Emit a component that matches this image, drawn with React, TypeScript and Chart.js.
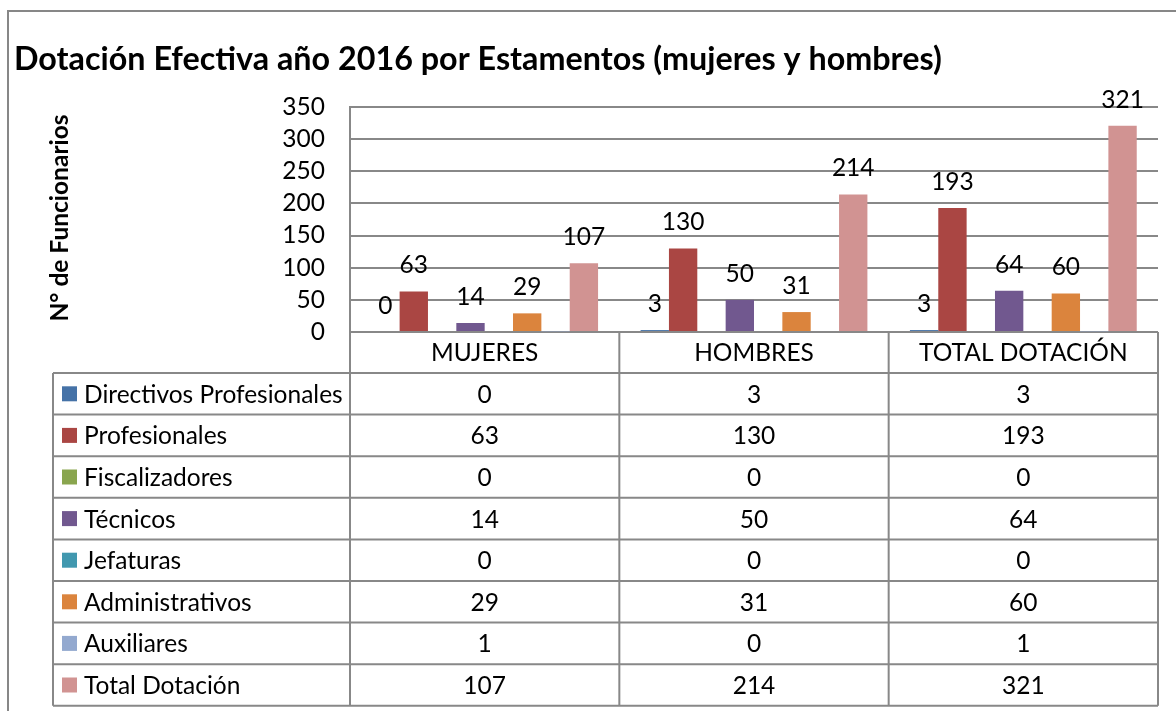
import React, { useEffect, useRef } from 'react';
import { Chart, registerables } from 'chart.js';

Chart.register(...registerables);

const chartTitle = 'Dotación Efectiva año 2016 por Estamentos (mujeres y hombres)';
const yAxisTitle = 'N° de Funcionarios';
const categories = ['MUJERES', 'HOMBRES', 'TOTAL DOTACIÓN'];
const seriesNames = [
  'Directivos Profesionales',
  'Profesionales',
  'Fiscalizadores',
  'Técnicos',
  'Jefaturas',
  'Administrativos',
  'Auxiliares',
  'Total Dotación',
];
const directivos = [0, 3, 3];
const profesionales = [63, 130, 193];
const fiscalizadores = [0, 0, 0];
const tecnicos = [14, 50, 64];
const jefaturas = [0, 0, 0];
const administrativos = [29, 31, 60];
const auxiliares = [1, 0, 1];
const totalDotacion = [107, 214, 321];
const seriesValues = [directivos, profesionales, fiscalizadores, tecnicos, jefaturas, administrativos, auxiliares, totalDotacion];
const labeledSeries = [true, true, false, true, false, true, false, true];
const seriesColors = ['#4572A7', '#AA4643', '#89A54E', '#71588F', '#4198AF', '#DB843D', '#93A9CF', '#D19392'];
const yMin = 0;
const yMax = 350;
const yStep = 50;

const FONT = 'Lato';
const TEXT_SIZE = 24.5;
const LINE = '#888888';

const extrasPlugin = {
  id: 'excelExtras',
  afterDatasetsDraw(chart: any) {
    const ctx = chart.ctx;
    ctx.save();
    ctx.fillStyle = '#000';
    ctx.font = `${TEXT_SIZE}px ${FONT}`;
    ctx.textAlign = 'center';
    ctx.textBaseline = 'middle';
    chart.data.datasets.forEach((ds: any, di: number) => {
      if (!labeledSeries[di]) return;
      const meta = chart.getDatasetMeta(di);
      meta.data.forEach((bar: any, i: number) => {
        ctx.fillText(String(ds.data[i]), bar.x, bar.y - 26);
      });
    });
    ctx.restore();
  },
  afterDraw(chart: any) {
    const ctx = chart.ctx;
    const area = chart.chartArea;
    const xs = chart.scales.x;
    const n = categories.length;
    const colW = (area.right - area.left) / n;
    const headerTop = area.bottom;
    const headerBottom = 373;
    const rowH = 41.6;
    const rows = seriesNames.length;
    const tableBottom = headerBottom + rowH * rows;
    const legendLeft = 53;
    ctx.save();

    // outer frame
    ctx.strokeStyle = '#878787';
    ctx.lineWidth = 2;
    ctx.beginPath();
    ctx.moveTo(8, 711);
    ctx.lineTo(8, 11);
    ctx.lineTo(1176, 11);
    ctx.stroke();

    // title
    ctx.fillStyle = '#000';
    ctx.font = `bold 32.3px ${FONT}`;
    ctx.textAlign = 'left';
    ctx.textBaseline = 'alphabetic';
    ctx.fillText(chartTitle, 14, 70);

    // y axis title
    ctx.save();
    ctx.translate(60, 218);
    ctx.rotate(-Math.PI / 2);
    ctx.font = `bold 24.5px ${FONT}`;
    ctx.textAlign = 'center';
    ctx.textBaseline = 'middle';
    ctx.fillText(yAxisTitle, 0, 0);
    ctx.restore();

    // table lines
    ctx.strokeStyle = LINE;
    ctx.lineWidth = 2;
    ctx.beginPath();
    for (let r = 0; r <= rows; r++) {
      const y = headerBottom + rowH * r;
      ctx.moveTo(legendLeft, y);
      ctx.lineTo(area.right, y);
    }
    ctx.moveTo(legendLeft, headerBottom);
    ctx.lineTo(legendLeft, tableBottom);
    ctx.moveTo(area.left, headerTop);
    ctx.lineTo(area.left, tableBottom);
    for (let i = 0; i < n; i++) {
      const xr = xs.getPixelForValue(i) + colW / 2;
      ctx.moveTo(xr, headerTop);
      ctx.lineTo(xr, tableBottom);
    }
    ctx.stroke();

    // header texts
    ctx.font = `${TEXT_SIZE}px ${FONT}`;
    ctx.textAlign = 'center';
    ctx.textBaseline = 'middle';
    ctx.fillStyle = '#000';
    categories.forEach((c, i) => {
      ctx.fillText(c, xs.getPixelForValue(i), (headerTop + headerBottom) / 2 + 1);
    });

    // rows
    seriesNames.forEach((name, r) => {
      const cy = headerBottom + rowH * r + rowH / 2;
      ctx.fillStyle = seriesColors[r];
      ctx.fillRect(62, cy - 7.5, 15, 15);
      ctx.fillStyle = '#000';
      ctx.textAlign = 'left';
      ctx.fillText(name, 84, cy + 1);
      ctx.textAlign = 'center';
      seriesValues[r].forEach((v, i) => {
        ctx.fillText(String(v), xs.getPixelForValue(i), cy + 1);
      });
    });
    ctx.restore();
  },
};

export default function App() {
  const ref = useRef<HTMLCanvasElement | null>(null);
  useEffect(() => {
    if (!ref.current) return;
    const chart = new Chart(ref.current, {
      type: 'bar',
      data: {
        labels: categories,
        datasets: seriesNames.map((name, i) => ({
          label: name,
          data: seriesValues[i],
          backgroundColor: seriesColors[i],
          borderWidth: 0,
          categoryPercentage: 8 / 9.5,
          barPercentage: 1,
        })),
      },
      options: {
        animation: false,
        responsive: true,
        maintainAspectRatio: false,
        layout: { padding: { left: 0, top: 107, right: 18, bottom: 379 } },
        plugins: {
          legend: { display: false },
          title: { display: false },
          tooltip: { enabled: false },
        },
        scales: {
          x: { display: false },
          y: {
            min: yMin,
            max: yMax,
            ticks: {
              stepSize: yStep,
              autoSkip: false,
              color: '#000',
              padding: 25,
              font: { family: FONT, size: TEXT_SIZE },
            },
            grid: { color: LINE, lineWidth: 2, drawTicks: false },
            border: { display: true, color: LINE, width: 2 },
            afterFit: (scale: any) => {
              scale.width = 350;
            },
          },
        },
      },
      plugins: [extrasPlugin],
    });
    return () => chart.destroy();
  }, []);
  return (
    <div style={{ position: 'fixed', left: 0, top: 0, width: 1176, height: 711, background: '#fff' }}>
      <canvas ref={ref} />
    </div>
  );
}
